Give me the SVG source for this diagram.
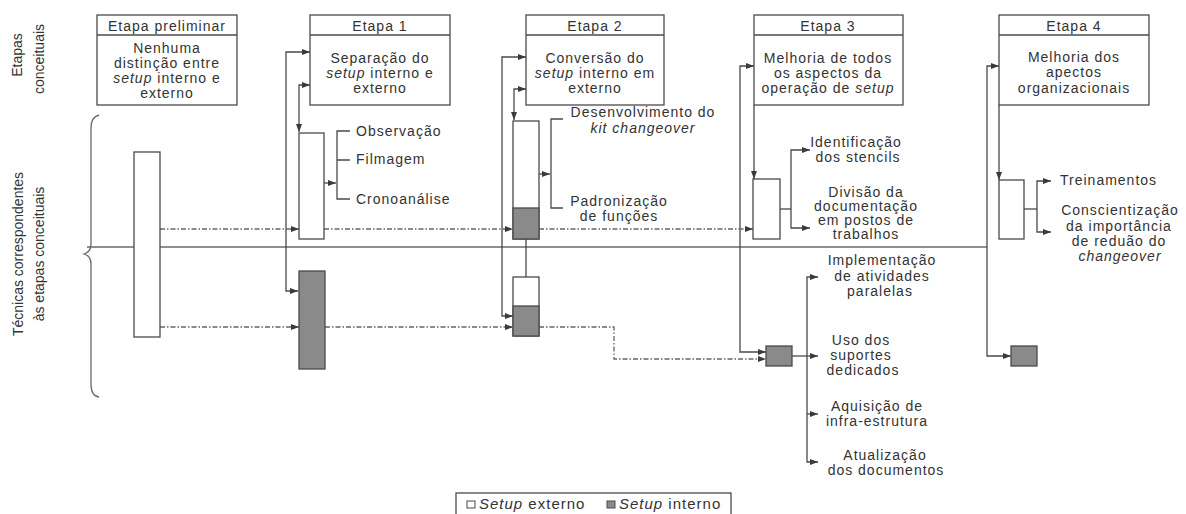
<svg xmlns="http://www.w3.org/2000/svg" width="1186" height="514" viewBox="0 0 1186 514">
<style>
text{font-family:"Liberation Sans",Arial,sans-serif;font-size:14px;fill:#333;letter-spacing:1px}
.c{text-anchor:middle}
.rot{font-size:14px;letter-spacing:0}
.it{font-style:italic}
.box{fill:#fff;stroke:#4a4a4a;stroke-width:1.3}
.gray{fill:#8a8a8a;stroke:#4a4a4a;stroke-width:1.3}
.ln{fill:none;stroke:#4a4a4a;stroke-width:1.3}
.dash{fill:none;stroke:#666;stroke-width:1.3;stroke-dasharray:5 2 1.5 2}
.div{fill:none;stroke:#6a6a6a;stroke-width:1.3}
</style>
<defs>
<marker id="ah" markerUnits="userSpaceOnUse" markerWidth="8" markerHeight="6" refX="8" refY="3" orient="auto-start-reverse">
<path d="M0,0 L8,3 L0,6 z" fill="#3a3a3a"/>
</marker>
</defs>

<g id="side-labels">
<text class="rot c" transform="translate(22,55) rotate(-90)">Etapas</text>
<text class="rot c" transform="translate(44,59) rotate(-90)">conceituais</text>
<text class="rot c" transform="translate(23,254) rotate(-90)">Técnicas correspondentes</text>
<text class="rot c" transform="translate(44,254) rotate(-90)">às etapas conceituais</text>
<path class="div" d="M99 115 Q91 117 91 128 L91 244 Q91 252 84 254 Q91 256 91 264 L91 384 Q91 396 99 397"/>
</g>

<g id="connectors">
<path class="div" d="M87 247 H987"/>
<!-- Etapa 1 -->
<path class="ln" d="M298 291 H286 V52 H310" marker-start="url(#ah)" marker-end="url(#ah)"/>
<path class="ln" d="M299 132 V85 H310" marker-start="url(#ah)" marker-end="url(#ah)"/>
<path class="ln" d="M324 183 H336" marker-end="url(#ah)"/>
<path class="ln" d="M350 131 H337 V199 H350 M337 160 H350"/>
<!-- Etapa 2 -->
<path class="ln" d="M513 316 H502 V57 H526" marker-start="url(#ah)" marker-end="url(#ah)"/>
<path class="ln" d="M514 120 V89 H526" marker-start="url(#ah)" marker-end="url(#ah)"/>
<path class="ln" d="M539 174 H550" marker-end="url(#ah)"/>
<path class="ln" d="M563 119 H551 V208 H563"/>
<path class="ln" d="M526 289 V230" marker-end="url(#ah)"/>
<!-- Etapa 3 -->
<path class="ln" d="M766 352 H740 V66 H754" marker-start="url(#ah)" marker-end="url(#ah)"/>
<path class="ln" d="M754 105 V179" marker-end="url(#ah)"/>
<path class="ln" d="M780 209 H791"/>
<path class="ln" d="M810 150 H791 V228 H810" marker-start="url(#ah)" marker-end="url(#ah)"/>
<path class="ln" d="M792 356 H818" marker-end="url(#ah)"/>
<path class="ln" d="M818 277 H807 V462 H818" marker-start="url(#ah)" marker-end="url(#ah)"/>
<path class="ln" d="M807 414 H818" marker-end="url(#ah)"/>
<!-- Etapa 4 -->
<path class="ln" d="M1011 356 H987 V66 H999" marker-start="url(#ah)" marker-end="url(#ah)"/>
<path class="ln" d="M999 105 V180" marker-end="url(#ah)"/>
<path class="ln" d="M1024 209 H1037"/>
<path class="ln" d="M1051 181 H1037 V232 H1051" marker-start="url(#ah)" marker-end="url(#ah)"/>
<!-- dashed flows -->
<path class="dash" d="M160 229 H299" marker-end="url(#ah)"/>
<path class="dash" d="M324 229 H513" marker-end="url(#ah)"/>
<path class="dash" d="M539 229 H753" marker-end="url(#ah)"/>
<path class="dash" d="M160 327 H299" marker-end="url(#ah)"/>
<path class="dash" d="M325 327 H513" marker-end="url(#ah)"/>
<path class="dash" d="M539 327 H614 V359 H766" marker-end="url(#ah)"/>
</g>

<g id="stage-prelim">
<rect class="box" x="97" y="15" width="140" height="90"/>
<path class="ln" d="M97 35 H237"/>
<text class="c" x="167" y="31">Etapa preliminar</text>
<text class="c" x="167" y="53">Nenhuma</text>
<text class="c" x="167" y="68">distinção entre</text>
<text class="c" x="167" y="83"><tspan class="it">setup</tspan> interno e</text>
<text class="c" x="167" y="98">externo</text>
</g>

<g id="stage-1">
<rect class="box" x="310" y="15" width="140" height="90"/>
<path class="ln" d="M310 35 H450"/>
<text class="c" x="380" y="31">Etapa 1</text>
<text class="c" x="380" y="63">Separação do</text>
<text class="c" x="380" y="78"><tspan class="it">setup</tspan> interno e</text>
<text class="c" x="380" y="93">externo</text>
</g>

<g id="stage-2">
<rect class="box" x="526" y="15" width="138" height="90"/>
<path class="ln" d="M526 35 H664"/>
<text class="c" x="595" y="31">Etapa 2</text>
<text class="c" x="595" y="63">Conversão do</text>
<text class="c" x="595" y="78"><tspan class="it">setup</tspan> interno em</text>
<text class="c" x="595" y="93">externo</text>
</g>

<g id="stage-3">
<rect class="box" x="754" y="15" width="149" height="90"/>
<path class="ln" d="M754 35 H903"/>
<text class="c" x="828" y="31">Etapa 3</text>
<text class="c" x="828" y="63">Melhoria de todos</text>
<text class="c" x="828" y="78">os aspectos da</text>
<text class="c" x="828" y="93">operação de <tspan class="it">setup</tspan></text>
</g>

<g id="stage-4">
<rect class="box" x="999" y="15" width="150" height="90"/>
<path class="ln" d="M999 35 H1149"/>
<text class="c" x="1074" y="31">Etapa 4</text>
<text class="c" x="1074" y="62">Melhoria dos</text>
<text class="c" x="1074" y="77">apectos</text>
<text class="c" x="1074" y="93">organizacionais</text>
</g>

<g id="bar-prelim"><rect class="box" x="134" y="152" width="26" height="185"/></g>
<g id="bar-e1-ext"><rect class="box" x="299" y="133" width="25" height="106"/></g>
<g id="bar-e1-int"><rect class="gray" x="299" y="271" width="26" height="98"/></g>
<g id="bar-e2-upper">
<rect class="box" x="513" y="121" width="26" height="118"/>
<rect class="gray" x="513" y="208" width="26" height="31"/>
</g>
<g id="bar-e2-lower">
<rect class="box" x="513" y="277" width="26" height="59"/>
<rect class="gray" x="513" y="306" width="26" height="30"/>
</g>
<g id="bar-e3-ext"><rect class="box" x="753" y="179" width="27" height="60"/></g>
<g id="bar-e3-int"><rect class="gray" x="766" y="346" width="26" height="20"/></g>
<g id="bar-e4-ext"><rect class="box" x="999" y="180" width="25" height="59"/></g>
<g id="bar-e4-int"><rect class="gray" x="1011" y="346" width="26" height="20"/></g>

<g id="tech-e1">
<text x="356" y="136">Observação</text>
<text x="356" y="164">Filmagem</text>
<text x="356" y="204">Cronoanálise</text>
</g>

<g id="tech-e2">
<text class="c" x="643" y="117">Desenvolvimento do</text>
<text class="c it" x="643" y="133">kit changeover</text>
<text class="c" x="619" y="206">Padronização</text>
<text class="c" x="619" y="221">de funções</text>
</g>

<g id="tech-e3">
<text class="c" x="856" y="147">Identificação</text>
<text class="c" x="858" y="162">dos stencils</text>
<text class="c" x="866" y="197">Divisão da</text>
<text class="c" x="866" y="211">documentação</text>
<text class="c" x="866" y="225">em postos de</text>
<text class="c" x="866" y="239">trabalhos</text>
<text class="c" x="882" y="265">Implementação</text>
<text class="c" x="882" y="281">de atividades</text>
<text class="c" x="880" y="296">paralelas</text>
<text class="c" x="861" y="345">Uso dos</text>
<text class="c" x="861" y="360">suportes</text>
<text class="c" x="863" y="375">dedicados</text>
<text class="c" x="877" y="411">Aquisição de</text>
<text class="c" x="877" y="426">infra-estrutura</text>
<text class="c" x="885" y="460">Atualização</text>
<text class="c" x="886" y="475">dos documentos</text>
</g>

<g id="tech-e4">
<text x="1060" y="185">Treinamentos</text>
<text class="c" x="1120" y="215">Conscientização</text>
<text class="c" x="1119" y="231">da importância</text>
<text class="c" x="1119" y="246">de reduão do</text>
<text class="c it" x="1120" y="261">changeover</text>
</g>

<g id="legend">
<rect class="box" x="456" y="493" width="275" height="26"/>
<rect x="467" y="501" width="8" height="7" fill="#fff" stroke="#4a4a4a" stroke-width="1"/>
<text x="479" y="509" style="font-size:15px"><tspan class="it">Setup</tspan> externo</text>
<rect x="607" y="501" width="8" height="7" fill="#8a8a8a" stroke="#4a4a4a" stroke-width="1"/>
<text x="619" y="509" style="font-size:15px"><tspan class="it">Setup</tspan> interno</text>
</g>
</svg>
